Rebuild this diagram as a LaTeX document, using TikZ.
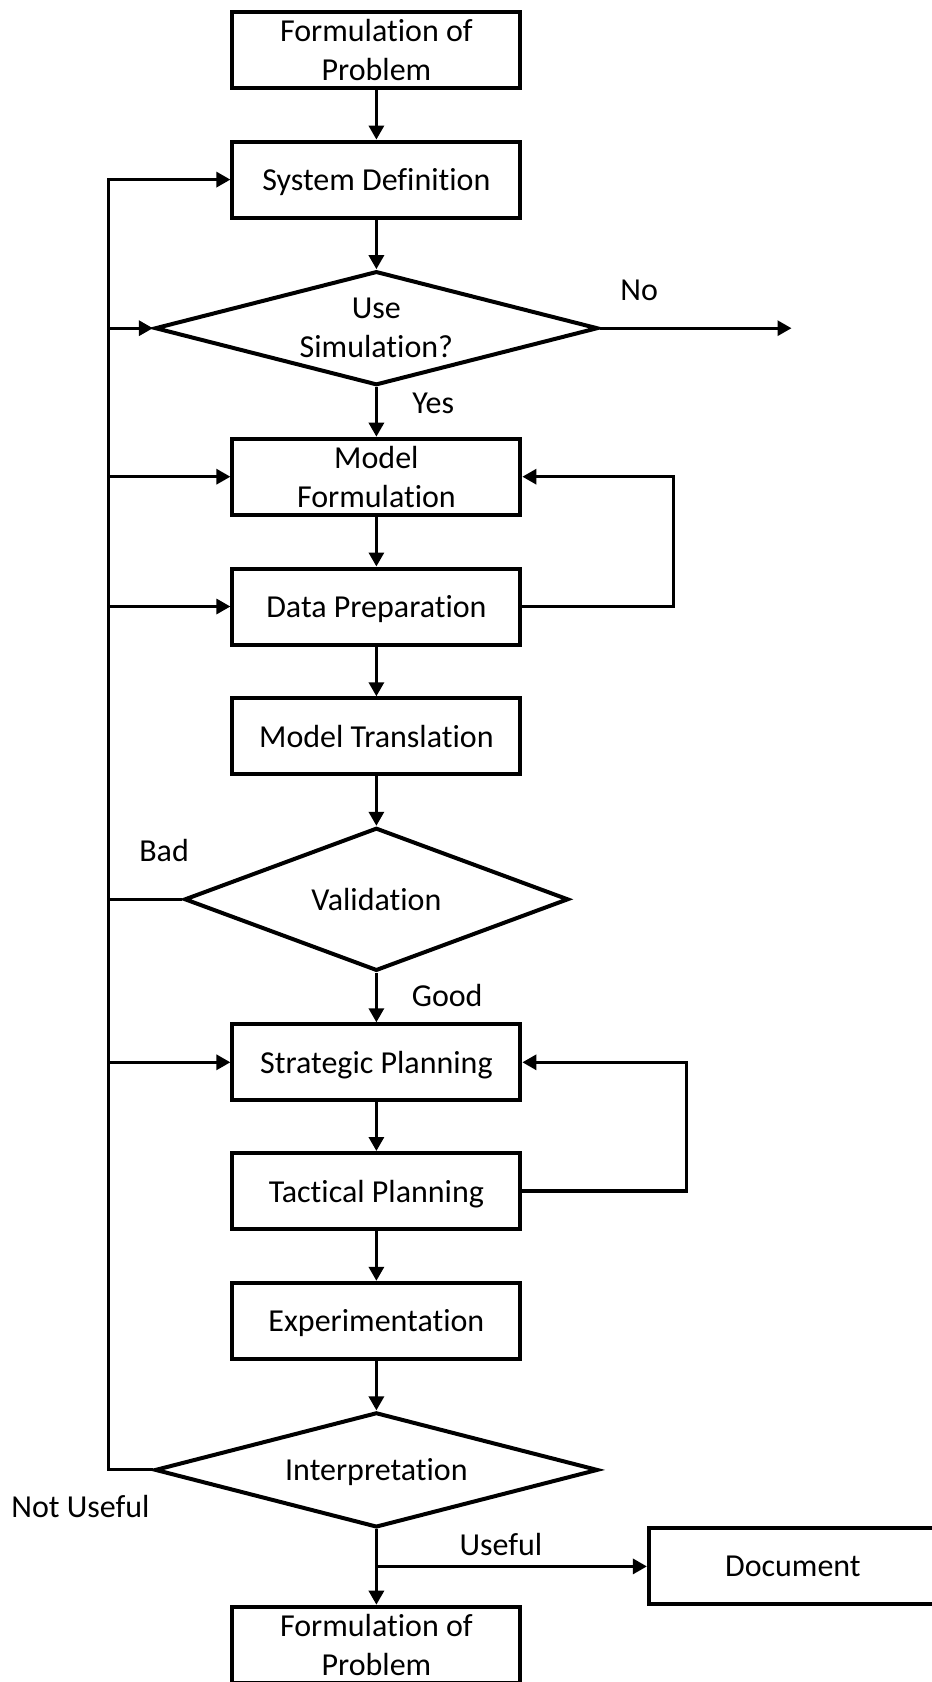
\documentclass[tikz,border=0pt]{standalone}
\usepackage{fontspec}
\setmainfont{Carlito}[Ligatures=NoCommon]
\usetikzlibrary{shapes.geometric,arrows.meta}
\begin{document}
\begin{tikzpicture}[x=1pt,y=-1pt,
  font=\fontsize{32}{39}\selectfont,
  stepbox/.style={draw,line width=4pt,minimum width=288pt,minimum height=76pt,inner sep=0pt,align=center,text depth=0pt},
  decision/.style={draw,diamond,line width=4pt,inner sep=0pt,align=center,text depth=0pt},
  twoline/.style={text depth=-5pt},
  flow/.style={line width=3.1pt,-{Triangle[length=14pt,width=15pt]}},
  link/.style={line width=3.1pt},
  lbl/.style={inner sep=0pt}]
\useasboundingbox (0,0) rectangle (932,1682);
\fill[white] (0,0) rectangle (932,1682);

% main column
\node[stepbox,twoline] (f1)  at (376.4,49.9)   {Formulation of\\Problem};
\node[stepbox] (sys) at (376.4,179.6)  {System Definition};
\node[decision,twoline,minimum width=443pt,minimum height=114pt,shape aspect=3.9] (sim) at (376.4,328.2) {Use\\Simulation?};
\node[stepbox,twoline] (mf)  at (376.4,476.7)  {Model\\Formulation};
\node[stepbox] (dp)  at (376.4,606.5)  {Data Preparation};
\node[stepbox] (mt)  at (376.4,736.3)  {Model Translation};
\node[decision,minimum width=384pt,minimum height=143pt,shape aspect=2.69] (val) at (376.4,899.3) {Validation};
\node[stepbox] (sp)  at (376.4,1062.3) {Strategic Planning};
\node[stepbox] (tp)  at (376.4,1191.0) {Tactical Planning};
\node[stepbox] (ex)  at (376.4,1320.8) {Experimentation};
\node[decision,minimum width=443pt,minimum height=115pt,shape aspect=3.85] (interp) at (376.4,1469.9) {Interpretation};
\node[stepbox,twoline] (f2)  at (376.4,1644.7) {Formulation of\\Problem};
\node[stepbox] (doc) at (792.9,1566.4) {Document};

% helper coordinates
\coordinate (bus)   at (108.3,0);
\coordinate (loopA) at (673.5,0);
\coordinate (loopB) at (686.4,0);
\coordinate (noend) at (791.5,328.2);

% downward flow
\draw[flow] (f1) -- (sys);
\draw[flow] (sys) -- (sim);
\draw[flow] (sim) -- (mf);
\draw[flow] (mf) -- (dp);
\draw[flow] (dp) -- (mt);
\draw[flow] (mt) -- (val);
\draw[flow] (val) -- (sp);
\draw[flow] (sp) -- (tp);
\draw[flow] (tp) -- (ex);
\draw[flow] (ex) -- (interp);
\draw[flow] (interp.south) -- (f2.north);
\draw[flow] (interp.south |- doc.west) -- (doc.west);
\draw[flow] (sim.east) -- (noend);

% feedback bus on the left
\draw[flow] (interp.west) -- (bus |- interp.west) -- (bus |- sys.west) -- (sys.west);
\draw[flow] (bus |- sim.west) -- (sim.west);
\draw[flow] (bus |- mf.west) -- (mf.west);
\draw[flow] (bus |- dp.west) -- (dp.west);
\draw[flow] (bus |- sp.west) -- (sp.west);
\draw[link] (val.west) -- (bus |- val.west);

% local loops on the right
\draw[flow] (dp.east) -- (loopA |- dp.east) -- (loopA |- mf.east) -- (mf.east);
\draw[flow] (tp.east) -- (loopB |- tp.east) -- (loopB |- sp.east) -- (sp.east);

% branch labels
\node[lbl] (lno)   at (639.2,290.6)  {No};
\node[lbl] (lyes)  at (433.3,403.3)  {Yes};
\node[lbl] (lbad)  at (164.1,850.5)  {Bad};
\node[lbl] (lgood) at (447.2,995.3)  {Good};
\node[lbl] (lnu)   at (80.4,1506.8)  {Not Useful};
\node[lbl] (luse)  at (500.9,1544.4) {Useful};
\end{tikzpicture}
\end{document}
